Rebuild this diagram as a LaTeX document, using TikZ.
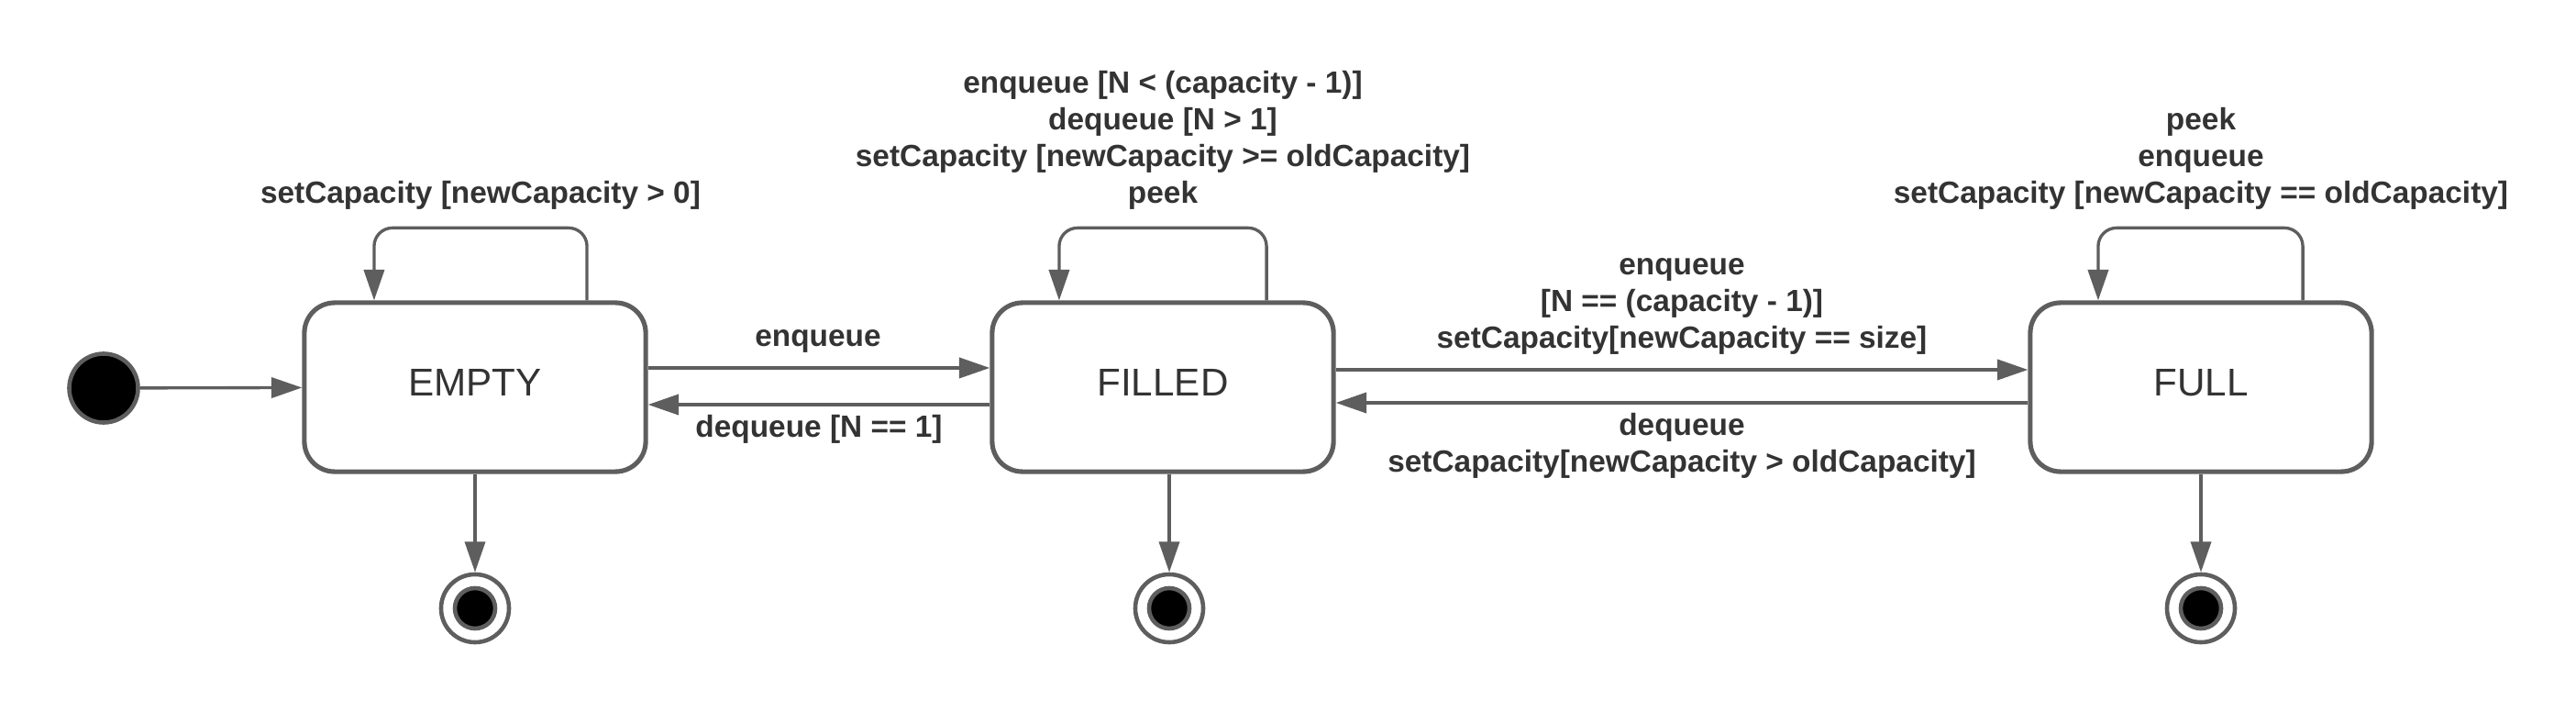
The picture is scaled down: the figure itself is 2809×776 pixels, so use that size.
\documentclass[tikz,border=0pt]{standalone}
\usepackage{fontspec}
\setmainfont{Liberation Sans}
\usetikzlibrary{arrows.meta}
\definecolor{linegray}{HTML}{5E5E5E}
\definecolor{textgray}{HTML}{333333}
\tikzset{
  state/.style={draw=linegray, line width=1.45pt, rounded corners=3.3mm, minimum width=3.72cm, minimum height=1.84cm, fill=white, text=textgray, text depth=1mm, font=\fontsize{12pt}{14pt}\selectfont},
  trans/.style={draw=linegray, line width=0.95pt, -{Triangle[length=9.5pt,width=6.3pt]}},
  guard/.style={align=center, inner sep=0pt, text=textgray, font=\bfseries\fontsize{9.5pt}{11.4pt}\selectfont},
  startdot/.style={circle, draw=linegray, line width=1.3pt, fill=black, minimum size=0.75cm, inner sep=0pt},
  enddot/.style={circle, draw=linegray, line width=1.3pt, fill=white, minimum size=0.74cm, inner sep=0pt},
  endcore/.style={circle, draw=linegray, line width=1.3pt, fill=black, minimum size=0.44cm, inner sep=0pt}
}
\begin{document}
\begin{tikzpicture}[x=0.01cm, y=-0.01cm]
\useasboundingbox (0, 0) rectangle (2809, 776);

\node (init) at (113, 423) [startdot] {};
\node (empty) at (518, 422) [state] {EMPTY};
\node (filled) at (1268, 422) [state] {FILLED};
\node (full) at (2400, 422) [state] {FULL};

\node (endempty) at (518, 663) [enddot] {};
\node (coreempty) at (518, 663) [endcore] {};
\node (endfilled) at (1275, 663) [enddot] {};
\node (corefilled) at (1275, 663) [endcore] {};
\node (endfull) at (2400, 663) [enddot] {};
\node (corefull) at (2400, 663) [endcore] {};

\node (gempty) at (524, 213) [guard] {setCapacity [newCapacity > 0]};
\node (gfilled) at (1268, 153) [guard] {enqueue [N < (capacity - 1)]\\dequeue [N > 1]\\setCapacity [newCapacity >= oldCapacity]\\peek};
\node (gfull) at (2400, 173) [guard] {peek\\enqueue\\setCapacity [newCapacity == oldCapacity]};
\node (genq) at (892, 372) [guard] {enqueue};
\node (gdeq) at (893, 468) [guard] {dequeue [N == 1]};
\node (gtofull) at (1834, 334) [guard] {enqueue\\{[N == (capacity - 1)]}\\setCapacity[newCapacity == size]};
\node (gfromfull) at (1834, 486) [guard] {dequeue\\setCapacity[newCapacity > oldCapacity]};

\draw [trans] (init) -- (empty);

\draw [trans] ([yshift=2.1mm]empty.east) -- ([yshift=2.1mm]filled.west);
\draw [trans] ([yshift=-1.9mm]filled.west) -- ([yshift=-1.9mm]empty.east);
\draw [trans] ([yshift=1.9mm]filled.east) -- ([yshift=1.9mm]full.west);
\draw [trans] ([yshift=-1.7mm]full.west) -- ([yshift=-1.7mm]filled.east);

\draw [trans, rounded corners=2mm] ([xshift=12.2mm]empty.north) -- ++(0, -79) -| ([xshift=-11mm]empty.north);
\draw [trans, rounded corners=2mm] ([xshift=11.3mm]filled.north) -- ++(0, -79) -| ([xshift=-11.3mm]filled.north);
\draw [trans, rounded corners=2mm] ([xshift=11.1mm]full.north) -- ++(0, -79) -| ([xshift=-11.2mm]full.north);

\draw [trans] (empty.south) -- (endempty);
\draw [trans] (filled.south -| endfilled.north) -- (endfilled);
\draw [trans] (full.south) -- (endfull);
\end{tikzpicture}
\end{document}
